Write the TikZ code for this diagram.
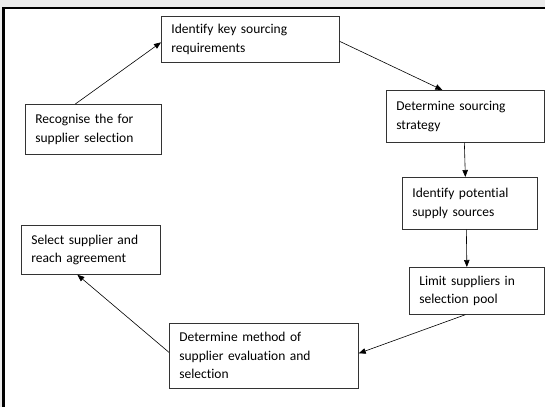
\documentclass[tikz,border=0pt]{standalone}
\usepackage{fontspec}
\setmainfont{Carlito}[Ligatures={NoCommon}]
\usetikzlibrary{arrows.meta}
\definecolor{stripgray}{HTML}{EBEBEB}
\begin{document}
\begin{tikzpicture}[x=1pt,y=-1pt,
  box/.style={draw=black!80, line width=0.7pt, fill=white, rectangle,
    inner xsep=10pt, inner ysep=0pt, align=left, anchor=north west,
    font=\fontsize{13.5}{18.5}\selectfont},
  link/.style={-{Triangle[length=7pt,width=5.5pt]}, line width=0.6pt}]
\useasboundingbox (0,0) rectangle (545,407);
\fill[white] (0,0) rectangle (545,407);
% top strip
\fill[stripgray] (0,0) rectangle (545,6.7);
\fill[stripgray] (0,6.7) rectangle (1.7,407);
% frame
\fill[black] (1.7,6.7) rectangle (545,9);
\fill[black] (1.7,6.7) rectangle (5,407);
% boxes
\node[box, text width=158pt, minimum height=46pt] (b1) at (161,16) {Identify key sourcing\\requirements};
\node[box, text width=116pt, minimum height=50pt] (b2) at (25,104) {Recognise the for\\supplier selection};
\node[box, text width=138pt, minimum height=52pt] (b3) at (386,90) {Determine sourcing\\strategy};
\node[box, text width=115pt, minimum height=52pt] (b4) at (402,177) {Identify potential\\supply sources};
\node[box, text width=115pt, minimum height=47pt] (b5) at (409,267) {Limit suppliers in\\selection pool};
\node[box, text width=169pt, minimum height=65pt] (b6) at (169,323) {Determine method of\\supplier evaluation and\\selection};
\node[box, text width=119pt, minimum height=49pt] (b7) at (21,225) {Select supplier and\\reach agreement};
% connectors
\draw[link] ([xshift=-18pt]b2.north) -- ([yshift=-3pt]b1.west);
\draw[link] ([yshift=-2pt]b1.east) -- ([xshift=-23pt]b3.north);
\draw[link] ([xshift=-1pt]b3.south) -- ([xshift=-4.5pt]b4.north);
\draw[link] ([xshift=-3.5pt]b4.south) -- ([xshift=-10pt]b5.north);
\draw[link] ([xshift=-11.5pt]b5.south) -- ([yshift=2.5pt]b6.east);
\draw[link] ([yshift=3.5pt]b6.west) -- ([xshift=-13.5pt]b7.south);
\end{tikzpicture}
\end{document}
